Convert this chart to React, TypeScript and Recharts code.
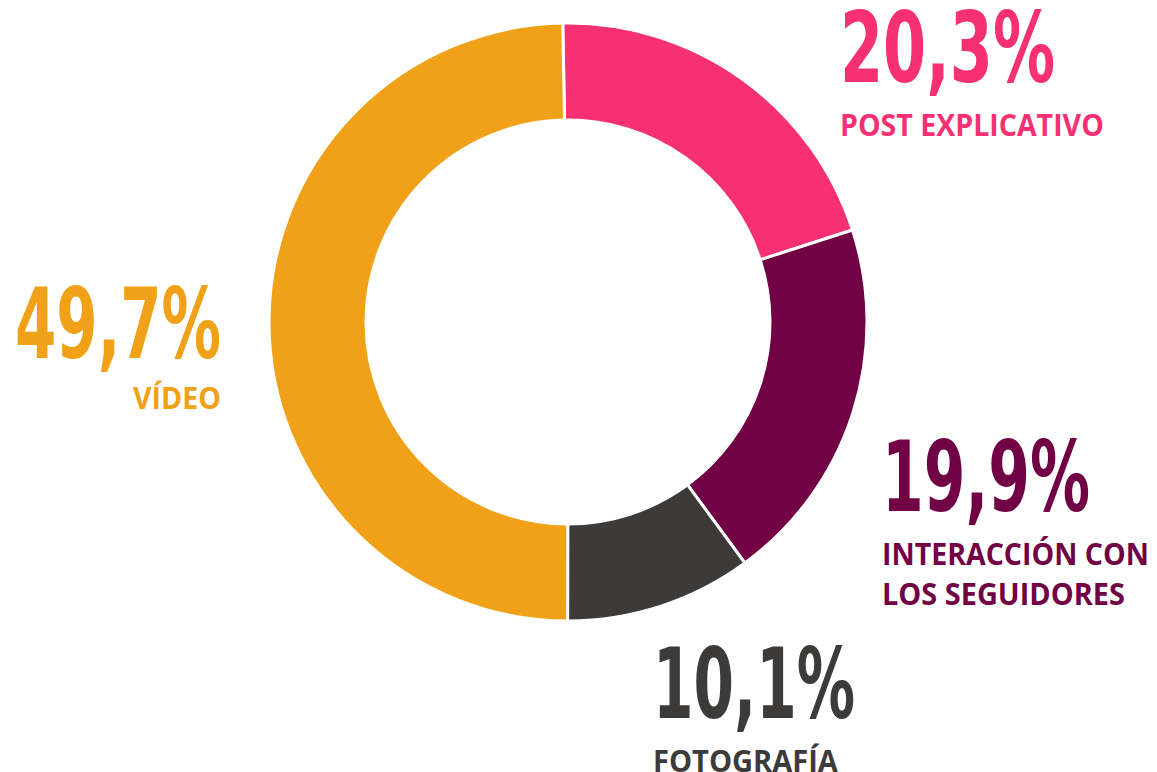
import React from 'react';
import { PieChart, Pie, Cell } from 'recharts';

const categories = ['POST EXPLICATIVO', 'INTERACCIÓN CON LOS SEGUIDORES', 'FOTOGRAFÍA', 'VÍDEO'];
const shares = [20.3, 19.9, 10.1, 49.7];
const categoryLines = [['POST EXPLICATIVO'], ['INTERACCIÓN CON', 'LOS SEGUIDORES'], ['FOTOGRAFÍA'], ['VÍDEO']];
const colors = ['#F73074', '#710044', '#3C3B39', '#F0A117'];

// where each label sits (left/right edge, baseline of the big number) and the widths it should fill
const labelLayout = [
  { x: 840, y: 82, anchor: 'start', numW: 215, lineW: [264] },
  { x: 882, y: 511, anchor: 'start', numW: 208, lineW: [267, 243] },
  { x: 653, y: 718, anchor: 'start', numW: 202, lineW: [185] },
  { x: 221, y: 358, anchor: 'end', numW: 206, lineW: [88] },
];

const NUM_FAMILY = '"Liberation Sans Narrow", "DejaVu Sans Condensed", sans-serif';
const CAT_FAMILY = '"Open Sans", "Noto Sans", sans-serif';

const data = categories.map((name, i) => ({ name, value: shares[i] }));

const fmt = (v: number) => `${v.toFixed(1).replace('.', ',')}%`;

// natural text width, so the label can be squeezed to the condensed look of the original
let ctx: CanvasRenderingContext2D | null = null;
const measure = (text: string, size: number, family: string) => {
  if (!ctx && typeof document !== 'undefined') ctx = document.createElement('canvas').getContext('2d');
  if (!ctx) return 1;
  ctx.font = `700 ${size}px ${family}`;
  return ctx.measureText(text).width || 1;
};

const FitText = ({ x, y, anchor, width, size, family, fill, children }: any) => {
  const sx = Math.min(1, width / measure(children, size, family));
  return (
    <g transform={`translate(${x},${y}) scale(${sx},1)`}>
      <text x={0} y={0} textAnchor={anchor} fill={fill} fontFamily={family} fontWeight={700} fontSize={size}>
        {children}
      </text>
    </g>
  );
};

const renderLabel = (props: any) => {
  const i = props.index;
  const l = labelLayout[i];
  const c = colors[i];
  return (
    <g key={`lbl-${i}`}>
      <FitText x={l.x} y={l.y} anchor={l.anchor} width={l.numW} size={98} family={NUM_FAMILY} fill={c}>
        {fmt(shares[i])}
      </FitText>
      {categoryLines[i].map((line, j) => (
        <FitText
          key={j}
          x={l.x}
          y={l.y + 54 + j * 40 - (i === 3 ? 3 : 0)}
          anchor={l.anchor}
          width={l.lineW[j]}
          size={30}
          family={CAT_FAMILY}
          fill={c}
        >
          {line}
        </FitText>
      ))}
    </g>
  );
};

export default function App() {
  return (
    <div style={{ position: 'absolute', left: 0, top: 0, width: 1157, height: 772, background: '#fff' }}>
      <PieChart width={1157} height={772} margin={{ top: 0, right: 0, bottom: 0, left: 0 }}>
        <Pie
          data={data}
          dataKey="value"
          nameKey="name"
          cx={568}
          cy={322}
          innerRadius={202}
          outerRadius={299}
          startAngle={91}
          endAngle={-269}
          stroke="#ffffff"
          strokeWidth={3}
          label={renderLabel}
          labelLine={false}
          isAnimationActive={false}
        >
          {data.map((d, i) => (
            <Cell key={d.name} fill={colors[i]} />
          ))}
        </Pie>
      </PieChart>
    </div>
  );
}
